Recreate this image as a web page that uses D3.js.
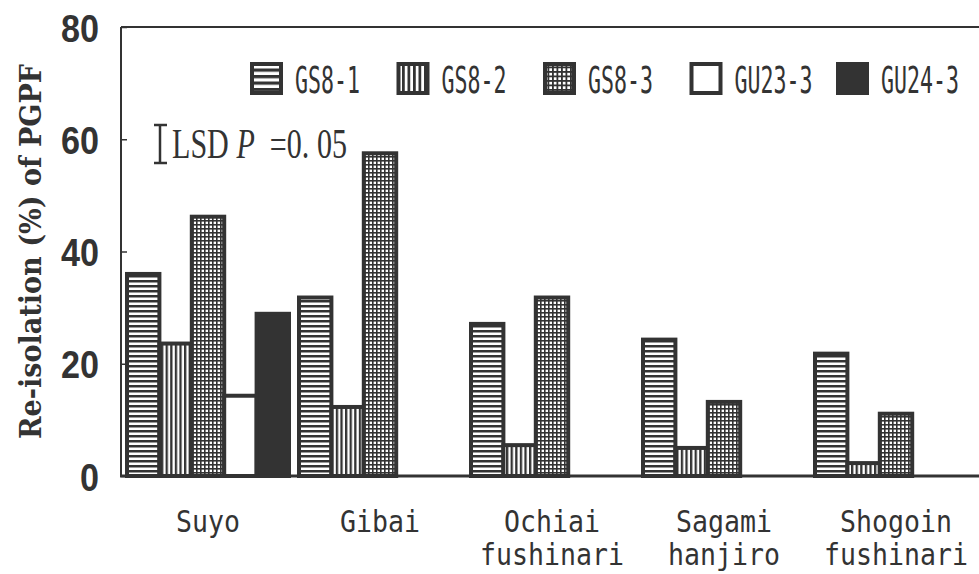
<!DOCTYPE html>
<html>
<head>
<meta charset="utf-8">
<script src="https://cdn.jsdelivr.net/npm/d3@7"></script>
<style>
  body { margin: 0; background: #fff; }
  svg { display: block; }
</style>
</head>
<body>
<script>
//wrap everything in a self-executing function
(function() {

//categories (cultivars) and isolates
var categories = ["Suyo", "Gibai", "Ochiai fushinari", "Sagami hanjiro", "Shogoin fushinari"];
var series = ["GS8-1", "GS8-2", "GS8-3", "GU23-3", "GU24-3"];

//re-isolation (%) of PGPF for each isolate, one value per category (null = not tested)
var gs81 = [36.0, 31.8, 27.1, 24.3, 21.8];
var gs82 = [23.6, 12.3, 5.5, 5.0, 2.3];
var gs83 = [46.2, 57.5, 31.8, 13.2, 11.1];
var gu233 = [14.3, null, null, null, null];
var gu243 = [28.9, null, null, null, null];

var yTicks = [0, 20, 40, 60, 80];
var lsdLabel = "=0. 05";

//frame
var width = 979,
    height = 574,
    axisX = 121,
    plotTop = 27,
    plotBottom = 476,
    ink = "#333";

var seriesValues = [gs81, gs82, gs83, gu233, gu243];

//flatten into bar records
var bars = [];
categories.forEach(function(c, i) {
    series.forEach(function(s, j) {
        var v = seriesValues[j][i];
        if (v != null) bars.push({cat: c, series: s, value: v});
    });
});

var svg = d3.select("body")
    .append("svg")
    .attr("width", width)
    .attr("height", height);

//patterns for the fills
var defs = svg.append("defs");

function makePattern(id, type, p) {
    var pat = defs.append("pattern")
        .attr("id", id)
        .attr("patternUnits", "userSpaceOnUse")
        .attr("width", p)
        .attr("height", p);
    pat.append("rect").attr("width", p).attr("height", p).attr("fill", "#fff");
    if (type == "h" || type == "grid") {
        pat.append("rect").attr("width", p).attr("height", type == "grid" ? p * 0.4 : p * 0.5).attr("fill", ink);
    }
    if (type == "v" || type == "grid") {
        pat.append("rect").attr("width", type == "grid" ? p * 0.4 : p * 0.5).attr("height", p).attr("fill", ink);
    }
}
makePattern("pH", "h", 5);
makePattern("pV", "v", 4.6);
makePattern("pG", "grid", 4);
makePattern("lH", "h", 6.5);
makePattern("lV", "v", 5.5);
makePattern("lG", "grid", 4.5);

var barFill = {"GS8-1": "url(#pH)", "GS8-2": "url(#pV)", "GS8-3": "url(#pG)", "GU23-3": "#fff", "GU24-3": ink};
var legendFill = {"GS8-1": "url(#lH)", "GS8-2": "url(#lV)", "GS8-3": "url(#lG)", "GU23-3": "#fff", "GU24-3": ink};

//scales
var y = d3.scaleLinear()
    .domain([0, 80])
    .range([plotBottom, plotTop]);

var x0 = d3.scaleBand()
    .domain(categories)
    .range([127, 987]);

var x1 = d3.scaleBand()
    .domain(series)
    .range([0, 162]);

//bars
svg.selectAll(".bar")
    .data(bars)
    .enter()
    .append("rect")
    .attr("class", "bar")
    .attr("x", function(d) { return x0(d.cat) + x1(d.series); })
    .attr("y", function(d) { return y(d.value); })
    .attr("width", x1.bandwidth())
    .attr("height", function(d) { return y(0) - y(d.value); })
    .attr("fill", function(d) { return barFill[d.series]; })
    .attr("stroke", ink)
    .attr("stroke-width", 4);

//y axis with inward ticks
var yAxis = d3.axisLeft(y)
    .tickValues(yTicks)
    .tickSize(-6)
    .tickPadding(22)
    .tickFormat(d3.format("d"));

var axis = svg.append("g")
    .attr("class", "axis")
    .attr("transform", "translate(" + axisX + ",0)")
    .call(yAxis);

axis.select(".domain").remove();
axis.selectAll(".tick line").attr("stroke", ink).attr("stroke-width", 1.5);
axis.selectAll(".tick text")
    .attr("fill", ink)
    .attr("dy", "0.36em")
    .style("font-family", "'Liberation Sans', sans-serif")
    .style("font-weight", "bold")
    .style("font-size", "39px")
    .attr("textLength", function(d) { return String(d).length * 19; })
    .attr("lengthAdjust", "spacingAndGlyphs");

//frame lines
svg.append("line")
    .attr("x1", axisX).attr("x2", axisX)
    .attr("y1", plotTop).attr("y2", plotBottom)
    .attr("stroke", ink).attr("stroke-width", 2);
svg.append("line")
    .attr("x1", axisX).attr("x2", width)
    .attr("y1", plotTop).attr("y2", plotTop)
    .attr("stroke", ink).attr("stroke-width", 2);
svg.append("line")
    .attr("x1", axisX - 1).attr("x2", width)
    .attr("y1", plotBottom).attr("y2", plotBottom)
    .attr("stroke", ink).attr("stroke-width", 3);

//y axis title
svg.append("text")
    .attr("transform", "translate(41," + (plotTop + plotBottom) / 2 + ") rotate(-90)")
    .attr("text-anchor", "middle")
    .attr("fill", ink)
    .style("font-family", "'DejaVu Serif', serif")
    .style("font-weight", "bold")
    .style("font-size", "30px")
    .attr("textLength", 375)
    .attr("lengthAdjust", "spacingAndGlyphs")
    .text("Re-isolation (%) of PGPF");

//category labels, split in lines, squeezed sideways
var catLabels = svg.selectAll(".catLabel")
    .data(categories)
    .enter()
    .append("text")
    .attr("class", "catLabel")
    .attr("transform", function(d) { return "translate(" + (x0(d) + 81) + ",0) scale(0.857,1)"; })
    .attr("text-anchor", "middle")
    .attr("fill", ink)
    .style("font-family", "'DejaVu Sans Mono', monospace")
    .style("font-size", "31px");

catLabels.selectAll("tspan")
    .data(function(d) { return d.split(" "); })
    .enter()
    .append("tspan")
    .attr("x", 0)
    .attr("y", function(d, k) { return 532 + k * 33; })
    .text(function(d) { return d; });

//legend
var legendX = d3.scalePoint()
    .domain(series)
    .range([250, 836]);

var legend = svg.selectAll(".legend")
    .data(series)
    .enter()
    .append("g")
    .attr("class", "legend")
    .attr("transform", function(d) { return "translate(" + legendX(d) + ",62)"; });

legend.append("rect")
    .attr("x", 2).attr("y", 2)
    .attr("width", 29).attr("height", 29)
    .attr("fill", function(d) { return legendFill[d]; })
    .attr("stroke", ink)
    .attr("stroke-width", 4);

legend.append("text")
    .attr("transform", "translate(45,31) scale(0.584,1)")
    .attr("fill", ink)
    .style("font-family", "'DejaVu Sans Mono', monospace")
    .style("font-size", "37px")
    .text(function(d) { return d; });

//LSD bar marker
var lsd = svg.append("g")
    .attr("class", "lsd")
    .attr("stroke", ink)
    .attr("stroke-width", 2.5);
lsd.append("line").attr("x1", 160).attr("x2", 160).attr("y1", 125).attr("y2", 163);
lsd.append("line").attr("x1", 154).attr("x2", 167).attr("y1", 125).attr("y2", 125);
lsd.append("line").attr("x1", 154).attr("x2", 167).attr("y1", 163).attr("y2", 163);

var lsdText = svg.append("text")
    .attr("transform", "translate(172,158) scale(0.7,1)")
    .attr("fill", ink)
    .style("font-family", "'Liberation Serif', serif")
    .style("font-size", "43px")
    .style("white-space", "pre");
lsdText.append("tspan").text("LSD ");
lsdText.append("tspan").style("font-style", "italic").text("P");
lsdText.append("tspan").text("  " + lsdLabel);

})();
</script>
</body>
</html>
